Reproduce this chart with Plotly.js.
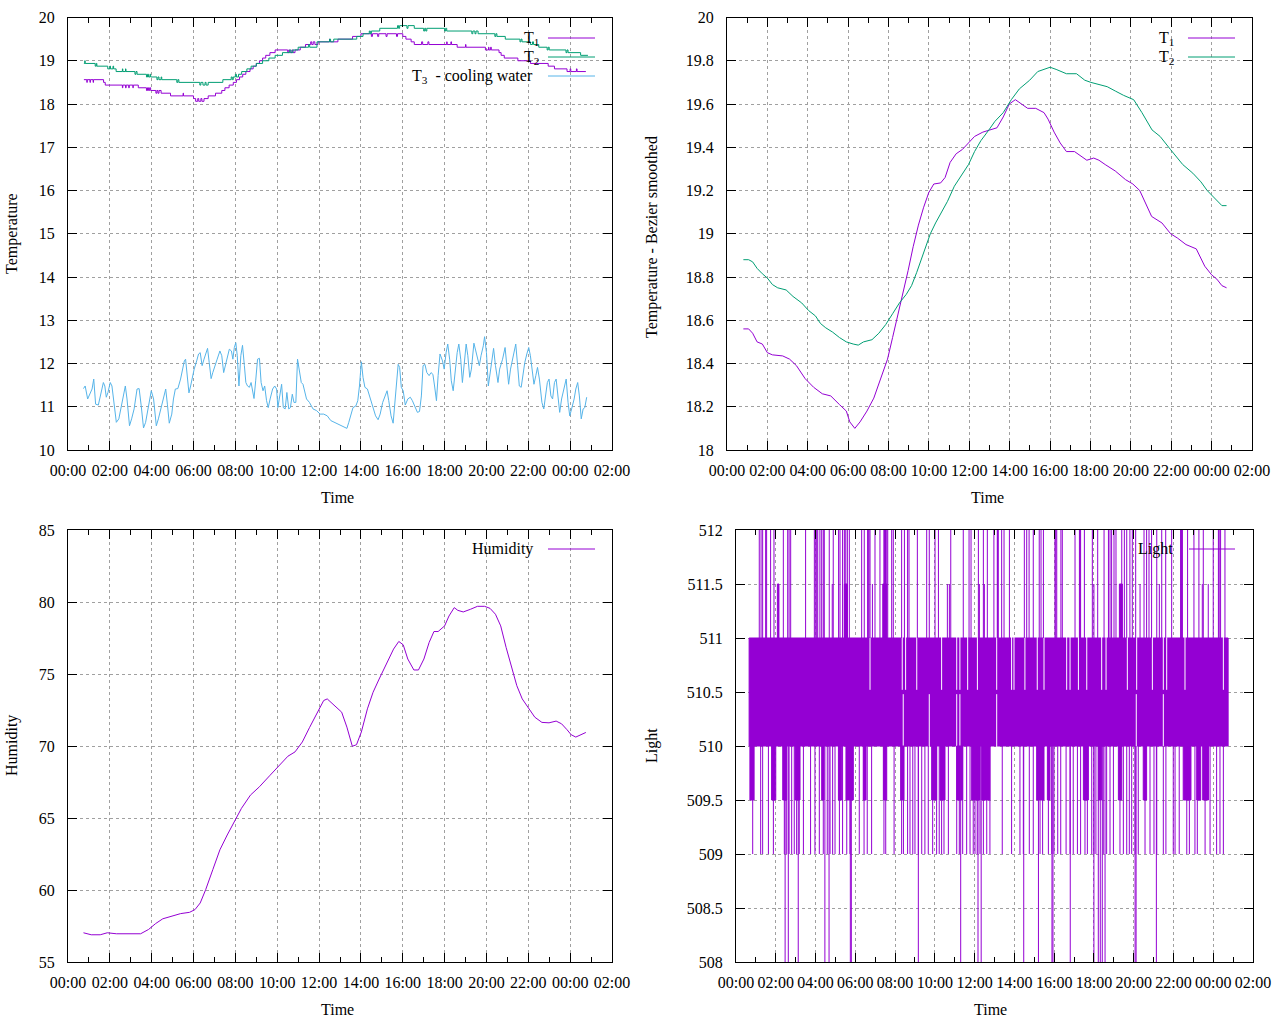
<!DOCTYPE html>
<html>
<head>
<meta charset="utf-8">
<script src="https://cdn.plot.ly/plotly-3.0.1.min.js"></script>
<style>
html, body { margin: 0; padding: 0; background: #fff; }
#chart { width: 1280px; height: 1024px; }
</style>
</head>
<body>
<div id="chart"></div>
<script>
// hours are counted from 00:00 of the first day

// raw sensors (step plot, top left)
var t1Hours = [0.76,0.9,0.92,1.05,1.07,1.2,1.22,1.7,1.78,2.6,2.62,2.75,2.78,2.9,2.93,3.1,3.12,3.36,3.75,3.8,3.85,3.9,3.95,4.2,4.25,4.3,4.35,4.45,4.9,5.5,5.52,6.0,6.1,6.2,6.25,6.35,6.4,6.5,6.7,7.05,7.35,7.5,7.7,7.9,8.05,8.2,8.35,8.5,8.7,8.85,9.0,9.15,9.3,9.45,9.65,9.9,10.5,10.55,10.6,10.7,10.75,10.85,11.1,11.35,11.6,11.65,11.72,11.8,11.95,12.5,12.52,12.9,13.6,14.0,14.5,14.55,14.8,14.85,15.2,15.25,15.7,15.75,16.0,16.15,16.4,16.55,16.9,16.95,17.2,17.25,18.1,18.12,18.3,18.33,18.6,19.0,19.02,19.95,20.1,20.12,20.2,20.23,20.6,20.7,20.85,21.5,22.1,22.95,23.25,23.85,24.0,24.03,24.3,24.33,24.75];
var t1Temps = [18.5625,18.5,18.5625,18.5,18.5625,18.5,18.5625,18.5,18.4375,18.375,18.4375,18.375,18.4375,18.375,18.4375,18.375,18.4375,18.375,18.3125,18.375,18.3125,18.375,18.3125,18.25,18.3125,18.25,18.3125,18.25,18.1875,18.25,18.1875,18.125,18.0625,18.125,18.0625,18.125,18.0625,18.125,18.1875,18.25,18.3125,18.375,18.4375,18.5,18.5625,18.625,18.6875,18.75,18.8125,18.875,18.9375,19.0,19.0625,19.125,19.1875,19.25,19.1875,19.25,19.1875,19.25,19.1875,19.25,19.3125,19.375,19.4375,19.375,19.4375,19.375,19.4375,19.5,19.4375,19.5,19.5625,19.625,19.5625,19.625,19.5625,19.625,19.5625,19.625,19.5625,19.625,19.5625,19.5,19.4375,19.375,19.4375,19.375,19.4375,19.375,19.4375,19.375,19.4375,19.375,19.3125,19.375,19.3125,19.25,19.3125,19.25,19.3125,19.25,19.1875,19.125,19.0625,19.0,18.9375,18.875,18.8125,18.75,18.8125,18.75,18.8125,18.75,18.75];

var t2Hours = [0.76,0.8,0.82,1.3,1.35,1.38,1.9,2.0,2.03,2.15,2.18,2.3,2.6,2.62,2.75,2.77,3.2,3.25,3.3,3.75,3.8,3.85,3.92,3.95,4.25,4.3,4.35,4.45,4.48,5.2,5.25,5.3,6.3,6.35,6.45,6.55,6.6,6.7,7.4,7.8,7.85,7.9,8.0,8.05,8.15,8.3,8.55,8.75,9.0,9.3,9.6,9.9,10.25,10.6,10.65,10.75,11.0,11.5,11.55,11.9,12.5,12.55,12.7,13.8,14.1,14.4,14.45,14.5,14.9,15.75,15.8,15.85,16.2,16.25,16.55,17.0,17.05,17.1,17.15,18.0,18.05,18.1,19.3,19.35,19.45,19.5,19.6,20.4,20.45,20.5,20.9,21.6,21.65,21.7,22.1,22.2,22.25,22.5,22.9,22.95,23.0,23.8,23.85,23.9,24.5,24.85];
var t2Temps = [18.9375,19.0,18.9375,18.875,18.9375,18.875,18.8125,18.875,18.8125,18.875,18.8125,18.75,18.8125,18.75,18.8125,18.75,18.6875,18.75,18.6875,18.625,18.6875,18.625,18.6875,18.625,18.5625,18.625,18.5625,18.625,18.5625,18.5,18.5625,18.5,18.4375,18.5,18.4375,18.5,18.4375,18.5,18.5625,18.625,18.5625,18.625,18.6875,18.625,18.6875,18.75,18.8125,18.875,18.9375,19.0,19.0625,19.125,19.1875,19.25,19.1875,19.25,19.3125,19.375,19.3125,19.4375,19.5,19.4375,19.5,19.5625,19.625,19.6875,19.625,19.6875,19.75,19.8125,19.75,19.8125,19.75,19.8125,19.75,19.6875,19.75,19.6875,19.75,19.6875,19.75,19.6875,19.625,19.6875,19.625,19.6875,19.625,19.5625,19.625,19.5625,19.5,19.4375,19.5,19.4375,19.375,19.4375,19.375,19.3125,19.25,19.3125,19.25,19.1875,19.25,19.1875,19.125,19.125];

var t3Hours = [0.74,0.82,0.94,1.03,1.15,1.23,1.32,1.45,1.59,1.69,1.76,1.83,1.91,2.02,2.10,2.22,2.31,2.43,2.56,2.74,2.82,2.94,3.04,3.16,3.30,3.40,3.50,3.61,3.71,3.85,3.98,4.09,4.15,4.22,4.32,4.44,4.56,4.67,4.75,4.84,4.96,5.04,5.13,5.25,5.38,5.47,5.56,5.62,5.69,5.78,5.86,5.93,6.03,6.15,6.24,6.32,6.41,6.50,6.58,6.67,6.75,6.84,6.92,7.01,7.13,7.26,7.35,7.44,7.52,7.61,7.71,7.81,7.88,7.95,8.02,8.09,8.17,8.26,8.34,8.43,8.50,8.58,8.67,8.75,8.89,8.97,9.06,9.15,9.23,9.32,9.40,9.49,9.57,9.66,9.78,9.88,9.97,10.03,10.12,10.21,10.29,10.38,10.46,10.55,10.63,10.72,10.80,10.89,10.97,11.06,11.15,11.23,11.32,11.40,11.54,11.71,11.88,12.05,12.22,12.39,12.56,12.74,12.91,13.08,13.25,13.33,13.42,13.50,13.62,13.76,13.85,13.93,14.02,14.10,14.19,14.31,14.44,14.58,14.70,14.82,14.92,15.04,15.16,15.25,15.33,15.44,15.54,15.64,15.73,15.78,15.85,15.93,16.02,16.12,16.24,16.36,16.46,16.58,16.70,16.80,16.89,16.97,17.06,17.15,17.26,17.35,17.44,17.52,17.61,17.69,17.78,17.90,17.98,18.07,18.15,18.24,18.32,18.41,18.51,18.60,18.68,18.77,18.85,18.94,19.03,19.11,19.20,19.28,19.40,19.49,19.57,19.66,19.74,19.85,19.91,20.00,20.09,20.17,20.26,20.34,20.43,20.55,20.63,20.77,20.89,20.97,21.06,21.15,21.28,21.40,21.49,21.57,21.66,21.74,21.83,21.93,22.02,22.10,22.19,22.27,22.36,22.44,22.53,22.65,22.74,22.82,22.91,22.99,23.08,23.16,23.25,23.33,23.42,23.50,23.59,23.71,23.81,23.90,23.98,24.07,24.19,24.27,24.36,24.44,24.53,24.62,24.70,24.79];
var t3Temps = [11.42,11.48,11.18,11.29,11.41,11.64,11.06,11.04,11.37,11.56,11.48,11.22,11.33,11.56,11.48,10.95,10.64,10.72,11.02,11.48,11.18,10.56,10.72,10.95,11.41,11.42,11.02,10.51,10.64,11.02,11.37,11.18,10.87,10.56,10.72,10.98,11.25,11.41,11.06,10.62,10.83,11.18,11.41,11.42,11.64,11.83,12.06,12.10,11.68,11.32,11.48,11.68,11.87,12.06,12.22,12.25,11.95,12.10,12.22,12.35,12.02,11.65,11.79,11.95,12.10,12.29,12.18,11.79,11.95,12.18,12.33,12.29,12.10,12.37,12.48,12.18,11.48,12.18,12.42,11.95,11.56,11.48,11.45,11.56,11.19,11.60,12.10,12.12,11.56,11.37,11.48,11.14,10.98,11.18,11.41,11.48,11.41,10.98,11.25,11.52,10.98,10.95,11.33,10.95,10.98,11.29,11.10,11.10,12.10,11.87,11.56,11.52,11.37,11.18,11.10,10.95,10.91,10.83,10.83,10.79,10.68,10.64,10.60,10.56,10.52,10.50,10.64,10.79,10.98,11.02,11.14,11.48,12.04,11.68,11.45,11.41,11.22,10.98,10.79,10.70,10.83,11.10,11.25,11.37,11.14,10.79,10.62,11.18,11.64,11.98,11.91,11.45,11.37,11.04,11.18,11.22,11.14,10.98,10.87,10.89,11.25,11.95,11.98,11.79,11.72,11.79,11.75,11.48,11.14,11.72,12.22,12.06,11.87,12.25,12.45,12.10,11.60,11.37,11.87,12.25,12.45,12.10,11.56,11.95,12.45,12.18,11.68,11.87,12.47,12.29,12.10,11.95,12.18,12.41,12.62,12.25,11.48,11.79,12.10,12.35,11.95,11.56,11.87,12.10,12.37,11.87,11.52,11.87,12.18,12.45,11.95,11.48,11.45,11.72,12.02,12.22,12.37,12.18,11.87,11.52,11.72,11.91,11.64,11.10,10.95,11.25,11.56,11.64,11.25,11.18,11.56,11.64,11.18,10.87,11.18,11.48,11.64,11.10,10.79,10.95,11.18,11.41,11.56,11.25,10.72,10.95,10.98,11.22];

// bezier smoothed (top right)
var s1Hours = [0.81,1.07,1.27,1.49,1.75,2.00,2.25,2.76,3.10,3.44,3.87,4.29,4.72,5.14,5.57,5.91,6.08,6.33,6.59,6.93,7.27,7.61,7.95,8.20,8.46,8.71,8.97,9.22,9.48,9.73,9.99,10.24,10.58,10.80,11.05,11.35,11.66,11.96,12.26,12.67,13.07,13.37,13.68,13.98,14.28,14.59,14.89,15.29,15.70,15.90,16.20,16.50,16.81,17.21,17.52,17.82,18.16,18.42,18.73,19.23,19.74,20.10,20.44,20.78,21.03,21.54,21.97,22.31,22.73,23.24,23.41,23.66,24.00,24.26,24.51,24.74];
var s1Temps = [18.56,18.56,18.54,18.50,18.49,18.45,18.44,18.435,18.42,18.39,18.33,18.29,18.26,18.25,18.21,18.18,18.13,18.10,18.13,18.18,18.24,18.33,18.42,18.52,18.62,18.72,18.83,18.94,19.04,19.12,19.19,19.23,19.235,19.26,19.33,19.37,19.39,19.42,19.45,19.47,19.48,19.49,19.54,19.60,19.62,19.60,19.58,19.58,19.56,19.53,19.47,19.42,19.38,19.38,19.36,19.34,19.35,19.34,19.32,19.29,19.25,19.23,19.20,19.13,19.08,19.05,19.00,18.98,18.95,18.93,18.90,18.85,18.81,18.79,18.76,18.75];
var s2Hours = [0.81,1.07,1.27,1.49,1.75,2.00,2.25,2.51,2.93,3.27,3.70,4.04,4.38,4.63,4.89,5.23,5.57,5.91,6.25,6.50,6.76,7.18,7.52,7.86,8.20,8.54,8.88,9.14,9.39,9.73,10.07,10.33,10.58,10.92,11.26,11.66,11.96,12.26,12.57,12.97,13.27,13.68,14.08,14.48,14.99,15.39,16.00,16.30,16.81,17.31,17.72,18.02,18.42,18.83,19.23,19.64,20.14,20.55,21.05,21.45,21.96,22.57,23.07,23.47,23.78,24.00,24.51,24.74];
var s2Temps = [18.88,18.88,18.87,18.84,18.815,18.795,18.765,18.75,18.74,18.71,18.68,18.645,18.62,18.585,18.565,18.545,18.52,18.50,18.49,18.485,18.50,18.51,18.54,18.58,18.63,18.68,18.72,18.76,18.82,18.91,19.00,19.05,19.09,19.15,19.22,19.28,19.32,19.38,19.43,19.48,19.52,19.56,19.62,19.67,19.71,19.75,19.77,19.76,19.74,19.74,19.71,19.70,19.69,19.68,19.66,19.64,19.62,19.56,19.48,19.45,19.39,19.32,19.28,19.24,19.20,19.18,19.13,19.13];

// humidity (bottom left)
var humHours = [0.74,1.11,1.54,1.88,2.31,2.99,3.47,3.85,4.19,4.53,4.96,5.38,5.81,6.07,6.32,6.58,6.92,7.26,7.61,7.95,8.29,8.72,9.15,9.66,10.09,10.51,10.85,11.20,11.54,11.88,12.22,12.39,12.74,13.08,13.33,13.59,13.79,14.02,14.31,14.58,14.87,15.21,15.56,15.81,16.02,16.24,16.53,16.75,17.01,17.26,17.49,17.69,18.00,18.21,18.46,18.63,18.89,19.23,19.57,19.91,20.17,20.43,20.68,20.94,21.20,21.45,21.71,21.97,22.31,22.65,22.99,23.33,23.59,23.85,24.05,24.27,24.53,24.75];
var humValues = [57.03,56.89,56.89,57.03,56.96,56.96,56.96,57.26,57.67,58.0,58.18,58.36,58.45,58.64,59.1,60.02,61.41,62.79,63.82,64.75,65.67,66.59,67.17,67.97,68.66,69.29,69.59,70.28,71.27,72.24,73.16,73.27,72.81,72.35,71.31,69.98,70.09,70.97,72.58,73.73,74.65,75.69,76.73,77.26,77.03,76.04,75.28,75.28,76.04,77.19,77.95,77.95,78.34,79.03,79.61,79.42,79.31,79.49,79.70,79.70,79.56,79.15,78.34,76.84,75.46,74.19,73.27,72.70,72.00,71.64,71.61,71.73,71.54,71.13,70.78,70.62,70.78,70.94];

// light sensor (bottom right): the reading flips 510 / 510.5 / 511 all day, plus excursions
var lightSpan = [0.66, 24.75];
var lightBand = [510, 511];
var lightPeakHours = [1.17,1.26,1.34,1.49,1.54,1.74,1.91,2.38,2.60,2.67,2.75,3.50,3.94,4.01,4.06,4.11,4.22,4.31,4.39,4.44,4.69,4.89,5.16,5.23,5.36,5.45,5.52,5.60,5.70,6.32,6.45,6.62,6.65,6.69,6.74,6.99,7.24,7.44,7.46,7.49,7.52,7.58,7.63,7.83,7.91,8.33,8.47,8.63,8.70,9.12,9.59,9.72,10.01,10.18,10.80,11.43,11.72,11.82,12.19,12.44,12.64,12.97,13.14,13.16,13.19,13.36,13.48,13.75,14.50,14.62,14.74,14.95,15.25,15.34,15.46,16.04,16.08,16.13,16.34,16.41,17.05,17.27,17.30,17.33,17.52,17.92,18.19,18.51,18.73,18.81,18.89,19.01,19.11,19.40,19.53,19.65,19.81,19.93,20.10,20.52,20.65,20.77,20.90,21.16,21.41,21.61,21.91,22.36,22.38,22.41,22.45,22.71,23.03,23.28,23.50,24.00,24.26,24.30,24.37,24.59];
var lightHalfPeakHours = [4.84,6.86,10.63,10.73,12.24,12.49,18.00,20.32,21.29,23.45,23.75];
var lightHalfPeakStart = [2.08,5.45,7.38,19.28];
var lightHalfPeakEnd = [2.16,5.60,7.58,19.43];
var lightDipHours = [0.84,1.24,1.34,1.63,1.88,2.43,2.55,2.67,2.80,2.93,3.05,3.18,3.39,3.75,3.97,4.19,4.39,4.59,4.73,4.86,4.98,5.20,5.36,5.57,5.73,6.20,6.44,6.60,6.82,7.44,7.53,7.95,8.33,8.42,8.63,8.75,8.89,9.00,9.17,9.34,9.50,9.67,9.89,10.09,10.22,10.34,10.46,10.68,11.10,11.23,11.40,11.60,11.77,11.93,12.02,12.13,12.27,12.44,12.61,12.77,13.39,13.86,14.28,14.45,14.75,14.95,15.29,15.42,15.71,15.88,15.99,16.18,16.33,16.60,16.80,16.96,17.17,17.33,17.55,17.67,17.89,18.00,18.10,18.47,18.64,18.81,18.98,19.31,19.48,19.65,19.78,19.90,20.07,20.23,20.57,20.82,21.02,21.16,21.49,21.62,21.99,22.08,22.29,22.67,22.80,23.08,23.20,23.59,23.84,24.17,24.34,24.51];
var lightDeepDipHours = [2.47,2.63,3.13,4.47,4.68,5.75,5.80,9.17,11.30,12.17,12.33,14.47,15.21,15.89,15.94,16.81,18.00,18.22,18.32,18.42,18.56,20.07,20.12,21.14];
var lightHalfDipStart = [0.70,1.79,2.35,2.97,4.31,5.15,5.53,6.40,7.41,8.28,9.84,10.26,11.10,11.85,12.36,15.12,15.66,17.47,18.22,19.23,20.48,22.49,23.17,23.47];
var lightHalfDipEnd = [0.91,2.00,2.55,3.22,4.43,5.32,5.90,6.54,7.58,8.45,10.09,10.51,11.40,12.27,12.77,15.49,15.79,17.72,18.39,19.40,20.65,22.88,23.37,23.76];
var lightUpperGapHours = [6.74,8.36,8.53,9.09,10.34,11.10,11.26,11.65,12.14,13.11,13.86,13.98,14.53,15.15,15.49,16.63,16.80,17.22,17.64,18.39,18.61,19.68,20.15,20.94,21.49,21.66,22.58,24.51];
var lightLowerGapHours = [8.41,9.72,11.10,11.26,13.11,20.13,21.49];

var violet = '#9400d3', green = '#009e73', sky = '#56b4e9';
var font = 'Liberation Serif, Times New Roman, serif';

function toDate(h) {
    var d = new Date(Date.UTC(2024, 0, 1) + Math.round(h * 3600000));
    return d.toISOString().slice(0, 19).replace('T', ' ');
}
function px(x) { return x / 1280; }
function py(y) { return 1 - y / 1024; }

function segments(hours, from, to) {
    var xs = [], ys = [];
    hours.forEach(function (h) {
        xs.push(toDate(h), toDate(h), null);
        ys.push(from, to, null);
    });
    return {x: xs, y: ys};
}
function blocks(starts, ends, lo, hi) {
    var xs = [], ys = [];
    starts.forEach(function (s, i) {
        var a = toDate(s), b = toDate(ends[i]);
        xs.push(a, b, b, a, a, null);
        ys.push(lo, lo, hi, hi, lo, null);
    });
    return {x: xs, y: ys};
}

function timeAxis(left, right, anchor) {
    return {
        domain: [px(left), px(right)], anchor: anchor, type: 'date',
        range: [toDate(0), toDate(26)], tick0: toDate(0), dtick: 7200000, tickformat: '%H:%M',
        ticks: 'inside', ticklen: 9, tickcolor: '#000', ticklabelstandoff: 6,
        minor: {dtick: 3600000, ticks: 'inside', ticklen: 5, tickcolor: '#000', showgrid: false},
        showline: true, linecolor: '#000', linewidth: 1, mirror: 'ticks',
        showgrid: true, gridcolor: '#a0a0a0', griddash: 'dot', gridwidth: 1,
        zeroline: false, tickfont: {family: font, size: 16, color: '#000'}
    };
}
function valueAxis(top, bottom, anchor, range, dtick) {
    return {
        domain: [py(bottom), py(top)], anchor: anchor, range: range, dtick: dtick, tick0: range[0],
        ticks: 'inside', ticklen: 9, tickcolor: '#000', ticklabelstandoff: 9,
        showline: true, linecolor: '#000', linewidth: 1, mirror: 'ticks',
        showgrid: true, gridcolor: '#a0a0a0', griddash: 'dot', gridwidth: 1,
        zeroline: false, tickfont: {family: font, size: 16, color: '#000'}
    };
}

function line(hours, vals, color, xa, ya, shape) {
    return {x: hours.map(toDate), y: vals, type: 'scatter', mode: 'lines',
        line: {color: color, width: 1, shape: shape || 'linear'}, xaxis: xa, yaxis: ya, hoverinfo: 'skip'};
}
function path(s, color, filled) {
    var t = {x: s.x, y: s.y, type: 'scatter', mode: 'lines', line: {color: color, width: 1},
        xaxis: 'x4', yaxis: 'y4', hoverinfo: 'skip', connectgaps: false};
    if (filled) { t.fill = 'toself'; t.fillcolor = color; }
    return t;
}

var data = [];
data.push(line(t1Hours, t1Temps, violet, 'x', 'y', 'hv'));
data.push(line(t2Hours, t2Temps, green, 'x', 'y', 'hv'));
data.push(line(t3Hours, t3Temps, sky, 'x', 'y'));

data.push(line(s1Hours, s1Temps, violet, 'x2', 'y2'));
data.push(line(s2Hours, s2Temps, green, 'x2', 'y2'));

data.push(line(humHours, humValues, violet, 'x3', 'y3'));

// light: solid band, white breaks, then excursions
var mid = (lightBand[0] + lightBand[1]) / 2;
data.push(path(blocks([lightSpan[0]], [lightSpan[1]], lightBand[0], lightBand[1]), violet, true));
data.push(path(segments(lightUpperGapHours, mid + 0.02, lightBand[1] + 0.01), '#fff'));
data.push(path(segments(lightLowerGapHours, lightBand[0] - 0.01, mid - 0.02), '#fff'));
data.push(path(blocks(lightHalfDipStart, lightHalfDipEnd, lightBand[0] - 0.5, lightBand[0]), violet, true));
data.push(path(blocks(lightHalfPeakStart, lightHalfPeakEnd, lightBand[1], lightBand[1] + 0.5), violet, true));
data.push(path(segments(lightPeakHours, lightBand[1], 512), violet));
data.push(path(segments(lightHalfPeakHours, lightBand[1], 511.5), violet));
data.push(path(segments(lightDipHours, lightBand[0], 509), violet));
data.push(path(segments(lightDeepDipHours, lightBand[0], 508), violet));

// keys, drawn by hand like gnuplot (text right, sample line after it)
var keys = [
    {text: 'T<sub>1</sub>', color: violet, right: 541, y: 38, x0: 548, x1: 595},
    {text: 'T<sub>2</sub>', color: green, right: 541, y: 57, x0: 548, x1: 595},
    {text: 'T<sub>3</sub>  - cooling water', color: sky, right: 535, y: 76, x0: 548, x1: 595},
    {text: 'T<sub>1</sub>', color: violet, right: 1176, y: 38, x0: 1188, x1: 1235},
    {text: 'T<sub>2</sub>', color: green, right: 1176, y: 57, x0: 1188, x1: 1235},
    {text: 'Humidity', color: violet, right: 535, y: 549, x0: 548, x1: 595},
    {text: 'Light', color: violet, right: 1175, y: 549, x0: 1189, x1: 1235}
];
var keyBoxes = [[386, 18, 612, 85], [1145, 18, 1252, 66], [460, 530, 612, 560], [1130, 530, 1253, 560]];

var shapes = keyBoxes.map(function (b) {
    return {type: 'rect', xref: 'paper', yref: 'paper', x0: px(b[0]), x1: px(b[2]), y0: py(b[3]), y1: py(b[1]),
        fillcolor: '#fff', line: {width: 0}, layer: 'between'};
});
var annotations = [];
keys.forEach(function (k) {
    shapes.push({type: 'line', xref: 'paper', yref: 'paper', x0: px(k.x0), x1: px(k.x1), y0: py(k.y), y1: py(k.y),
        line: {color: k.color, width: 1}});
    annotations.push({text: k.text, xref: 'paper', yref: 'paper', x: px(k.right), y: py(k.y),
        xanchor: 'right', yanchor: 'middle', showarrow: false, font: {family: font, size: 16, color: '#000'}});
});

var titles = [
    ['Time', 337, 497, 0], ['Time', 987, 497, 0], ['Time', 337, 1009, 0], ['Time', 990, 1009, 0],
    ['Temperature', 12, 234, -90], ['Temperature - Bezier smoothed', 652, 237, -90],
    ['Humidity', 12, 746, -90], ['Light', 652, 746, -90]
];
titles.forEach(function (t) {
    annotations.push({text: t[0], xref: 'paper', yref: 'paper', x: px(t[1]), y: py(t[2]),
        xanchor: 'center', yanchor: 'middle', textangle: t[3], showarrow: false,
        font: {family: font, size: 16, color: '#000'}});
});

var layout = {
    width: 1280, height: 1024,
    margin: {l: 0, r: 0, t: 0, b: 0},
    paper_bgcolor: '#fff', plot_bgcolor: '#fff',
    showlegend: false,
    font: {family: font, size: 16, color: '#000'},
    xaxis: timeAxis(68, 612, 'y'),
    yaxis: valueAxis(17.5, 450, 'x', [10, 20], 1),
    xaxis2: timeAxis(727, 1252, 'y2'),
    yaxis2: valueAxis(17.5, 450, 'x2', [18, 20], 0.2),
    xaxis3: timeAxis(68, 612, 'y3'),
    yaxis3: valueAxis(530, 962, 'x3', [55, 85], 5),
    xaxis4: timeAxis(736, 1253, 'y4'),
    yaxis4: valueAxis(530, 962, 'x4', [508, 512], 0.5),
    shapes: shapes,
    annotations: annotations
};

Plotly.newPlot('chart', data, layout, {staticPlot: true});
</script>
</body>
</html>
